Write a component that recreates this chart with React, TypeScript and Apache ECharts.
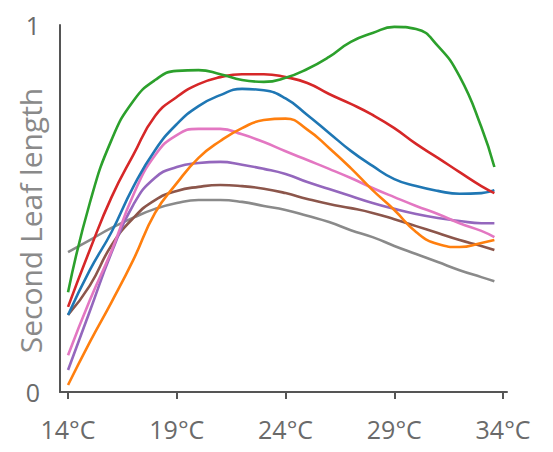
import React, { useEffect, useRef } from "react";
import * as echarts from "echarts";

const temps = [14, 15, 16, 17, 18, 19, 20, 21, 22, 23, 24, 25, 26, 27, 28, 29, 30, 31, 32, 33, 33.6];

const green = [0.272, 0.515, 0.687, 0.793, 0.85, 0.875, 0.877, 0.866, 0.85, 0.845, 0.856, 0.88, 0.913, 0.954, 0.978, 0.995, 0.989, 0.943, 0.86, 0.722, 0.613];
const red = [0.232, 0.387, 0.531, 0.646, 0.752, 0.804, 0.839, 0.858, 0.866, 0.866, 0.858, 0.842, 0.812, 0.785, 0.755, 0.719, 0.676, 0.638, 0.599, 0.561, 0.542];
const blue = [0.21, 0.332, 0.436, 0.559, 0.659, 0.73, 0.779, 0.809, 0.826, 0.822, 0.8, 0.755, 0.706, 0.657, 0.616, 0.58, 0.561, 0.548, 0.54, 0.542, 0.55];
const orange = [0.019, 0.136, 0.245, 0.36, 0.488, 0.569, 0.638, 0.684, 0.719, 0.741, 0.745, 0.715, 0.665, 0.61, 0.55, 0.496, 0.436, 0.403, 0.395, 0.406, 0.414];
const pink = [0.1, 0.25, 0.385, 0.537, 0.645, 0.7, 0.717, 0.717, 0.702, 0.681, 0.656, 0.632, 0.608, 0.583, 0.556, 0.531, 0.507, 0.485, 0.46, 0.439, 0.422];
const purple = [0.06, 0.22, 0.38, 0.51, 0.584, 0.613, 0.624, 0.627, 0.619, 0.608, 0.594, 0.572, 0.553, 0.534, 0.515, 0.499, 0.485, 0.474, 0.466, 0.46, 0.46];
const brown = [0.21, 0.29, 0.4, 0.474, 0.523, 0.548, 0.559, 0.564, 0.561, 0.554, 0.542, 0.526, 0.512, 0.501, 0.488, 0.471, 0.452, 0.433, 0.414, 0.398, 0.387];
const gray = [0.381, 0.414, 0.447, 0.475, 0.499, 0.515, 0.523, 0.523, 0.518, 0.507, 0.496, 0.48, 0.463, 0.441, 0.422, 0.398, 0.376, 0.354, 0.332, 0.313, 0.302];

const xTicks = [14, 19, 24, 29, 34];
const yTicks = [0, 1];

const seriesList: [string, number[], string][] = [
  ["gray", gray, "#8a8a8a"],
  ["brown", brown, "#8c564b"],
  ["purple", purple, "#9467bd"],
  ["pink", pink, "#e377c2"],
  ["orange", orange, "#ff7f0e"],
  ["blue", blue, "#1f77b4"],
  ["red", red, "#d62728"],
  ["green", green, "#2ca02c"],
];

export default function App() {
  const ref = useRef<HTMLDivElement>(null);
  useEffect(() => {
    if (!ref.current) return;
    const chart = echarts.init(ref.current, null, { renderer: "svg" });
    const font = "Open Sans";
    chart.setOption({
      animation: false,
      backgroundColor: "#ffffff",
      grid: { left: 60, right: 46, top: 25, bottom: 60, containLabel: false, outerBoundsMode: "none" },
      xAxis: {
        type: "value",
        min: 13.63,
        max: 34.18,
        splitLine: { show: false },
        axisLine: { lineStyle: { color: "#555", width: 2 } },
        axisTick: { customValues: xTicks, length: 7, lineStyle: { color: "#555", width: 2 } },
        axisLabel: {
          customValues: xTicks,
          formatter: (v: number) => `${v}°C`,
          color: "#6a6a6a",
          fontSize: 25,
          fontFamily: font,
          margin: 24,
        },
      },
      yAxis: {
        type: "value",
        min: 0,
        max: 1,
        name: "Second Leaf length",
        nameLocation: "middle",
        nameGap: 15,
        nameMoveOverlap: false,
        nameTextStyle: { color: "#8a8a8a", fontSize: 30, fontFamily: font, padding: [0, 24, 0, 0] },
        splitLine: { show: false },
        axisLine: { show: true, lineStyle: { color: "#555", width: 2 } },
        axisTick: { show: false },
        axisLabel: {
          customValues: yTicks,
          color: "#6a6a6a",
          fontSize: 25,
          fontFamily: font,
          margin: 20,
        },
      },
      series: seriesList.map(([name, vals, color]) => ({
        name,
        type: "line",
        smooth: 0.5,
        showSymbol: false,
        symbol: "none",
        lineStyle: { color, width: 2.6 },
        data: temps.map((t, i) => [t, vals[i]]),
      })),
    });
    return () => chart.dispose();
  }, []);
  return (
    <div
      ref={ref}
      style={{ position: "absolute", left: 0, top: 0, width: 553, height: 452 }}
    />
  );
}
